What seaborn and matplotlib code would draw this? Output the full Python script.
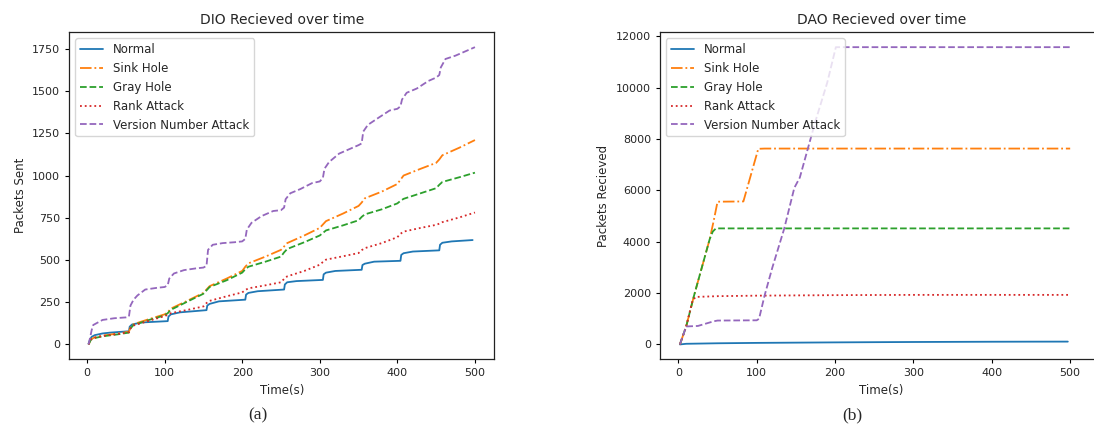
import matplotlib
matplotlib.use("Agg")
import matplotlib.pyplot as plt
import seaborn as sns

# ---- DIO received (left panel) ----
dio_normal_t = [2, 4, 6, 10, 20, 30, 54, 55, 58, 70, 104, 105, 108, 120, 154, 155, 158, 170,
                204, 205, 208, 220, 254, 255, 258, 270, 304, 305, 308, 320, 354, 355, 358, 370,
                404, 405, 408, 420, 454, 455, 458, 470, 497]
dio_normal_v = [5, 30, 45, 55, 65, 70, 78, 105, 118, 130, 138, 165, 178, 190, 203, 230, 240, 255,
                265, 295, 305, 315, 325, 355, 368, 375, 382, 415, 425, 435, 442, 470, 478, 490,
                495, 530, 540, 550, 557, 590, 602, 610, 618]

dio_t = [2, 5, 10, 20, 40, 54, 56, 60, 80, 100, 104, 108, 130, 150, 154, 158, 180, 200, 204, 208,
         230, 250, 254, 258, 280, 300, 304, 308, 330, 350, 354, 358, 380, 400, 404, 408, 430, 450,
         454, 458, 480, 500]
dio_sink_v = [0, 30, 42, 52, 65, 75, 100, 120, 150, 178, 190, 212, 260, 305, 325, 345, 390, 435,
              460, 480, 520, 560, 580, 600, 645, 690, 710, 730, 775, 820, 840, 865, 905, 950, 975,
              1000, 1040, 1075, 1095, 1120, 1165, 1210]
dio_gray_v = [0, 28, 38, 48, 60, 70, 95, 115, 145, 172, 185, 205, 255, 300, 320, 340, 380, 425,
              445, 460, 490, 520, 545, 565, 605, 645, 660, 675, 705, 735, 755, 770, 800, 835, 850,
              862, 895, 925, 945, 962, 990, 1017]
dio_rank_v = [0, 30, 40, 50, 62, 72, 95, 112, 140, 168, 175, 185, 205, 225, 245, 258, 285, 308,
              322, 332, 350, 368, 388, 403, 435, 472, 488, 502, 522, 541, 558, 570, 600, 635, 655,
              668, 690, 708, 715, 724, 752, 781]

dio_version_t = [2, 4, 6, 8, 12, 20, 35, 50, 54, 56, 60, 65, 75, 90, 100, 104, 106, 112, 125, 140,
                 150, 154, 156, 162, 175, 190, 200, 204, 206, 212, 225, 240, 250, 254, 256, 262,
                 275, 290, 300, 304, 306, 312, 325, 340, 350, 354, 356, 362, 375, 390, 400, 404,
                 406, 412, 425, 440, 450, 454, 456, 462, 475, 490, 500]
dio_version_v = [0, 40, 85, 115, 125, 145, 155, 160, 165, 230, 265, 290, 325, 335, 340, 350, 390,
                 420, 440, 450, 455, 465, 560, 590, 600, 605, 610, 625, 680, 720, 760, 790, 795,
                 810, 860, 895, 920, 955, 965, 985, 1040, 1080, 1130, 1160, 1180, 1190, 1260, 1300,
                 1340, 1385, 1395, 1410, 1450, 1490, 1515, 1560, 1580, 1595, 1640, 1690, 1710,
                 1740, 1760]

# ---- DAO received (right panel) ----
dao_normal_t = [2, 10, 50, 100, 150, 200, 250, 300, 350, 400, 450, 497]
dao_normal_v = [0, 25, 45, 60, 70, 80, 88, 95, 100, 105, 108, 110]
dao_sink_t = [2, 10, 20, 30, 40, 45, 50, 83, 102, 110, 500]
dao_sink_v = [0, 700, 1900, 3000, 4100, 4800, 5560, 5570, 7620, 7630, 7630]
dao_gray_t = [2, 10, 20, 30, 40, 44, 48, 100, 500]
dao_gray_v = [0, 700, 1900, 3000, 4100, 4400, 4520, 4520, 4520]
dao_rank_t = [2, 10, 18, 22, 50, 100, 200, 300, 500]
dao_rank_v = [0, 700, 1700, 1850, 1880, 1900, 1920, 1930, 1930]
dao_version_t = [2, 10, 25, 45, 50, 100, 103, 110, 120, 135, 148, 155, 165, 175, 190, 201, 210, 500]
dao_version_v = [0, 700, 720, 900, 930, 940, 1000, 1900, 3000, 4500, 6100, 6500, 7600, 8700,
                 10200, 11580, 11580, 11580]

names = ["Normal", "Sink Hole", "Gray Hole", "Rank Attack", "Version Number Attack"]
colors = ["#1f77b4", "#ff7f0e", "#2ca02c", "#d62728", "#9467bd"]
styles = ["-", "-.", "--", ":", "--"]

sns.set_style("ticks")
plt.rcParams["font.family"] = ["DejaVu Sans"]

fig = plt.figure(figsize=(10.94, 4.25), dpi=100)
ax1 = fig.add_axes([0.0633, 0.1546, 0.3885, 0.7694])
# right panel runs past the canvas edge, as in the original figure
ax2 = fig.add_axes([0.6033, 0.1546, 0.405, 0.7694])

dio = [(dio_normal_t, dio_normal_v), (dio_t, dio_sink_v), (dio_t, dio_gray_v),
       (dio_t, dio_rank_v), (dio_version_t, dio_version_v)]
dao = [(dao_normal_t, dao_normal_v), (dao_sink_t, dao_sink_v), (dao_gray_t, dao_gray_v),
       (dao_rank_t, dao_rank_v), (dao_version_t, dao_version_v)]

for ax, series in [(ax1, dio), (ax2, dao)]:
    for (t, v), name, c, ls in zip(series, names, colors, styles):
        sns.lineplot(x=t, y=v, ax=ax, color=c, linestyle=ls, label=name,
                     estimator=None, sort=False, linewidth=1.3)
    ax.legend(loc="upper left", fontsize=8.5, framealpha=0.8, edgecolor="0.8",
              borderaxespad=0.5)
    ax.set_xlabel("Time(s)", fontsize=8.5)
    ax.set_xticks([0, 100, 200, 300, 400, 500])
    ax.tick_params(labelsize=8, length=3, width=0.8, color="black", direction="out")
    for sp in ax.spines.values():
        sp.set_color("#222222")
        sp.set_linewidth(0.9)

ax1.set_title("DIO Recieved over time", fontsize=10, pad=6)
ax1.set_ylabel("Packets Sent", fontsize=8.5)
ax1.set_yticks([0, 250, 500, 750, 1000, 1250, 1500, 1750])

ax2.set_title("DAO Recieved over time", fontsize=10, pad=6)
ax2.set_ylabel("Packets Recieved", fontsize=8.5)
ax2.set_yticks([0, 2000, 4000, 6000, 8000, 10000, 12000])
ax2.set_xlim(-23.4, 542)

fig.text(258 / 1094, 1 - 415 / 425, "(a)", ha="center", va="center",
         family="Liberation Serif", fontsize=12.5)
fig.text(852 / 1094, 1 - 415 / 425, "(b)", ha="center", va="center",
         family="Liberation Serif", fontsize=12.5)

fig.savefig("out.png", dpi=100)
